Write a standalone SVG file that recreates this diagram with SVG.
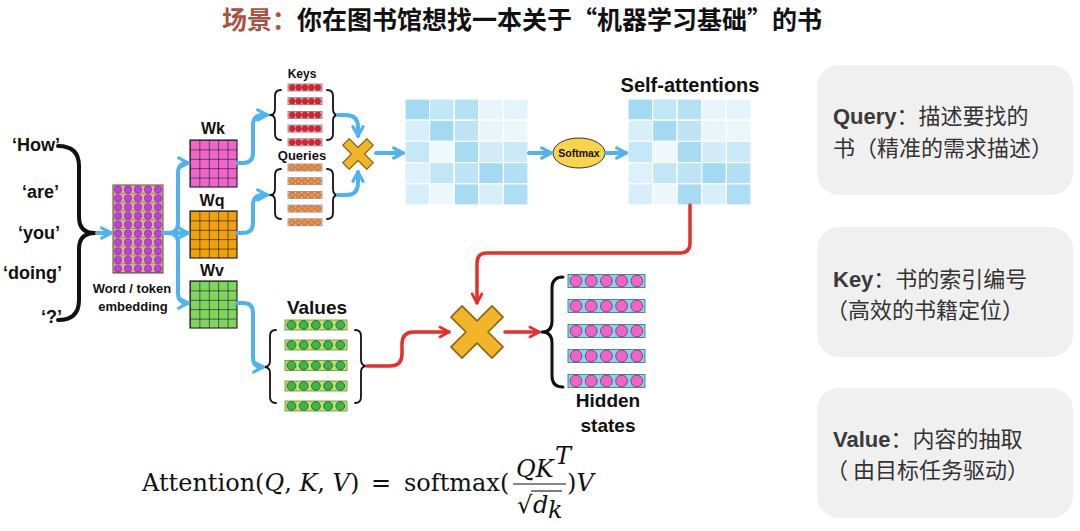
<svg xmlns="http://www.w3.org/2000/svg" xmlns:xlink="http://www.w3.org/1999/xlink" width="1080" height="531" viewBox="0 0 1080 531">
<style>
.lbl{font-family:"Liberation Sans","Noto Sans",sans-serif;font-weight:bold;fill:#111}
.word{font-family:"Liberation Sans",sans-serif;font-weight:bold;font-size:18px;fill:#111}
.blue{fill:none;stroke:#4fb3f3;stroke-width:4;stroke-linecap:round;stroke-linejoin:round}
.red{fill:none;stroke:#e5302a;stroke-width:3.5;stroke-linecap:round;stroke-linejoin:round}
.brace{fill:none;stroke:#111;stroke-linecap:round;stroke-linejoin:round}
.math{font-family:"DejaVu Serif",serif;font-size:24px;fill:#111}
.mi{font-style:italic}
.card{fill:#f0f0f0}
.ct{font-family:"Noto Sans CJK SC","Noto Sans",sans-serif;font-size:22px;fill:#333}
.kw{font-family:"Liberation Sans","Noto Sans CJK SC",sans-serif;font-weight:bold;fill:#3a3a3a}
.title{font-family:"Noto Sans CJK SC",sans-serif;font-weight:bold;font-size:25px;fill:#111}
.xs{fill:#f2b52a;stroke:#8c6a14;stroke-linejoin:round}
</style>
<defs>
<marker id="ab" viewBox="0 0 10 10" refX="8" refY="5" markerWidth="3.6" markerHeight="3.6" orient="auto" markerUnits="strokeWidth">
<path d="M1.5,1.5 L8,5 L1.5,8.5" fill="none" stroke="#4fb3f3" stroke-width="2.2" stroke-linecap="round" stroke-linejoin="round"/>
</marker>
<marker id="ar" viewBox="0 0 10 10" refX="8" refY="5" markerWidth="4" markerHeight="4" orient="auto" markerUnits="strokeWidth">
<path d="M1.5,1.5 L8,5 L1.5,8.5" fill="none" stroke="#e5302a" stroke-width="2" stroke-linecap="round" stroke-linejoin="round"/>
</marker>
<pattern id="grid" width="9.4" height="9.4" patternUnits="userSpaceOnUse">
<path d="M9.4 0 L0 0 L0 9.4" fill="none" stroke="#2a2a2a" stroke-width="1.4"/>
</pattern>
<pattern id="emb" width="10" height="8.8" patternUnits="userSpaceOnUse">
<line x1="0" y1="8.8" x2="10" y2="8.8" stroke="#6a4a30" stroke-width="0.9"/>
<circle cx="5" cy="4.4" r="3.7" fill="#c03ee6" stroke="#5a2070" stroke-width="0.5"/>
</pattern>
<path id="xsh" d="M-0.27,-1 L0.27,-1 L0.27,-0.27 L1,-0.27 L1,0.27 L0.27,0.27 L0.27,1 L-0.27,1 L-0.27,0.27 L-1,0.27 L-1,-0.27 L-0.27,-0.27 Z"/>
<g id="keyrow">
<rect x="0" y="-3.5" width="34" height="7" fill="#e9a9b8" stroke="#7a7a7a" stroke-width="0.8"/>
<circle cx="4.2" cy="0" r="2.9" fill="#e0202c" stroke="#8a1018" stroke-width="0.4"/>
<circle cx="10.6" cy="0" r="2.9" fill="#e0202c" stroke="#8a1018" stroke-width="0.4"/>
<circle cx="17" cy="0" r="2.9" fill="#e0202c" stroke="#8a1018" stroke-width="0.4"/>
<circle cx="23.4" cy="0" r="2.9" fill="#e0202c" stroke="#8a1018" stroke-width="0.4"/>
<circle cx="29.8" cy="0" r="2.9" fill="#e0202c" stroke="#8a1018" stroke-width="0.4"/>
</g>
<g id="qrow">
<rect x="0" y="-3.5" width="34" height="7" fill="#eec19a" stroke="#8a8a8a" stroke-width="0.8"/>
<circle cx="4.2" cy="0" r="2.9" fill="#f08c3c" stroke="#9a4a20" stroke-width="0.5"/>
<circle cx="10.6" cy="0" r="2.9" fill="#f08c3c" stroke="#9a4a20" stroke-width="0.5"/>
<circle cx="17" cy="0" r="2.9" fill="#f08c3c" stroke="#9a4a20" stroke-width="0.5"/>
<circle cx="23.4" cy="0" r="2.9" fill="#f08c3c" stroke="#9a4a20" stroke-width="0.5"/>
<circle cx="29.8" cy="0" r="2.9" fill="#f08c3c" stroke="#9a4a20" stroke-width="0.5"/>
</g>
<g id="vrow">
<rect x="0" y="-5" width="62" height="10" fill="#b9e36a" stroke="#6a8a30" stroke-width="0.8"/>
<circle cx="6.5" cy="0" r="4.4" fill="#3db54a" stroke="#1f5b2a" stroke-width="0.8"/>
<circle cx="18.7" cy="0" r="4.4" fill="#3db54a" stroke="#1f5b2a" stroke-width="0.8"/>
<circle cx="30.9" cy="0" r="4.4" fill="#3db54a" stroke="#1f5b2a" stroke-width="0.8"/>
<circle cx="43.1" cy="0" r="4.4" fill="#3db54a" stroke="#1f5b2a" stroke-width="0.8"/>
<circle cx="55.3" cy="0" r="4.4" fill="#3db54a" stroke="#1f5b2a" stroke-width="0.8"/>
</g>
<g id="hrow">
<rect x="0" y="-6.5" width="77" height="13" fill="#7ed9e2" stroke="#4a7a80" stroke-width="0.9"/>
<circle cx="8" cy="0" r="5.9" fill="#f263c9" stroke="#7a3070" stroke-width="0.8"/>
<circle cx="23.2" cy="0" r="5.9" fill="#f263c9" stroke="#7a3070" stroke-width="0.8"/>
<circle cx="38.4" cy="0" r="5.9" fill="#f263c9" stroke="#7a3070" stroke-width="0.8"/>
<circle cx="53.6" cy="0" r="5.9" fill="#f263c9" stroke="#7a3070" stroke-width="0.8"/>
<circle cx="68.8" cy="0" r="5.9" fill="#f263c9" stroke="#7a3070" stroke-width="0.8"/>
</g>
<g id="heat" stroke="#ffffff" stroke-width="1.2">
<rect x="0" y="0" width="24.6" height="21.2" fill="#a2daf3"/>
<rect x="24.6" y="0" width="24.6" height="21.2" fill="#c1e7f7"/>
<rect x="49.2" y="0" width="24.6" height="21.2" fill="#b4e1f5"/>
<rect x="73.8" y="0" width="24.6" height="21.2" fill="#e8f6fc"/>
<rect x="98.4" y="0" width="24.6" height="21.2" fill="#e2f4fc"/>
<rect x="0" y="21.2" width="24.6" height="21.2" fill="#d7effa"/>
<rect x="24.6" y="21.2" width="24.6" height="21.2" fill="#a2daf3"/>
<rect x="49.2" y="21.2" width="24.6" height="21.2" fill="#bce4f6"/>
<rect x="73.8" y="21.2" width="24.6" height="21.2" fill="#e8f6fc"/>
<rect x="98.4" y="21.2" width="24.6" height="21.2" fill="#eaf7fc"/>
<rect x="0" y="42.4" width="24.6" height="21.2" fill="#c4e8f8"/>
<rect x="24.6" y="42.4" width="24.6" height="21.2" fill="#f0f9fd"/>
<rect x="49.2" y="42.4" width="24.6" height="21.2" fill="#a8dcf3"/>
<rect x="73.8" y="42.4" width="24.6" height="21.2" fill="#d2edf9"/>
<rect x="98.4" y="42.4" width="24.6" height="21.2" fill="#cbeaf8"/>
<rect x="0" y="63.6" width="24.6" height="21.2" fill="#dcf1fb"/>
<rect x="24.6" y="63.6" width="24.6" height="21.2" fill="#c1e7f7"/>
<rect x="49.2" y="63.6" width="24.6" height="21.2" fill="#bce4f6"/>
<rect x="73.8" y="63.6" width="24.6" height="21.2" fill="#a2daf3"/>
<rect x="98.4" y="63.6" width="24.6" height="21.2" fill="#b1e0f4"/>
<rect x="0" y="84.8" width="24.6" height="21.2" fill="#d7effa"/>
<rect x="24.6" y="84.8" width="24.6" height="21.2" fill="#edf8fd"/>
<rect x="49.2" y="84.8" width="24.6" height="21.2" fill="#a8dcf3"/>
<rect x="73.8" y="84.8" width="24.6" height="21.2" fill="#d7effa"/>
<rect x="98.4" y="84.8" width="24.6" height="21.2" fill="#acdef4"/>
</g>
</defs>

<rect width="1080" height="531" fill="#ffffff"/>

<g id="title">
<text class="title" x="222" y="29"><tspan fill="#a9523f">场景：</tspan>你在图书馆想找一本关于“机器学习基础”的书</text>
</g>

<g id="words">
<text class="word" x="12" y="151">‘How’</text>
<text class="word" x="22" y="198">‘are’</text>
<text class="word" x="18" y="239">‘you’</text>
<text class="word" x="3" y="279">‘doing’</text>
<text class="word" x="41" y="323">‘?’</text>
<path class="brace" stroke-width="4" d="M58 146 Q79 146 79 166 L79 217 Q79 233 95 233 Q79 233 79 249 L79 300 Q79 320 58 320"/>
</g>

<g id="embedding">
<g transform="translate(113,185)">
<rect width="50" height="88" fill="#dcb58e"/>
<rect width="50" height="88" fill="url(#emb)"/>
<rect width="50" height="88" fill="none" stroke="#6a4a30" stroke-width="1"/>
</g>
<text class="lbl" x="132" y="293" font-size="13" text-anchor="middle">Word / token</text>
<text class="lbl" x="133" y="311" font-size="13" text-anchor="middle">embedding</text>
</g>

<g id="wk">
<text class="lbl" x="213" y="134" font-size="16" text-anchor="middle">Wk</text>
<g transform="translate(190,140)">
<rect width="47" height="47" fill="#f064cc"/>
<rect width="47" height="47" fill="url(#grid)"/>
<rect width="47" height="47" fill="none" stroke="#2a2a2a" stroke-width="1.2"/>
</g>
</g>
<g id="wq">
<text class="lbl" x="212" y="206" font-size="16" text-anchor="middle">Wq</text>
<g transform="translate(190,211)">
<rect width="47" height="47" fill="#f2a10a"/>
<rect width="47" height="47" fill="url(#grid)"/>
<rect width="47" height="47" fill="none" stroke="#2a2a2a" stroke-width="1.2"/>
</g>
</g>
<g id="wv">
<text class="lbl" x="212" y="276" font-size="16" text-anchor="middle">Wv</text>
<g transform="translate(190,281)">
<rect width="47" height="47" fill="#7ed65e"/>
<rect width="47" height="47" fill="url(#grid)"/>
<rect width="47" height="47" fill="none" stroke="#2a2a2a" stroke-width="1.2"/>
</g>
</g>

<g id="keys">
<text class="lbl" x="302" y="78" font-size="12" text-anchor="middle">Keys</text>
<use href="#keyrow" x="288" y="87.5"/>
<use href="#keyrow" x="288" y="101.2"/>
<use href="#keyrow" x="288" y="114.9"/>
<use href="#keyrow" x="288" y="128.6"/>
<use href="#keyrow" x="288" y="142.3"/>
<path class="brace" stroke-width="1.8" d="M281 90 Q275 90 275 96 L275 109 Q275 115 270 115 Q275 115 275 121 L275 134 Q275 140 281 140"/>
<path class="brace" stroke-width="1.8" d="M327 90 Q333 90 333 96 L333 109 Q333 115 338 115 Q333 115 333 121 L333 134 Q333 140 327 140"/>
</g>

<g id="queries">
<text class="lbl" x="302" y="160" font-size="13" text-anchor="middle">Queries</text>
<use href="#qrow" x="288" y="167.5"/>
<use href="#qrow" x="288" y="181.2"/>
<use href="#qrow" x="288" y="194.9"/>
<use href="#qrow" x="288" y="208.6"/>
<use href="#qrow" x="288" y="222.3"/>
<path class="brace" stroke-width="1.8" d="M281 169 Q275 169 275 175 L275 189 Q275 195 270 195 Q275 195 275 201 L275 213 Q275 219 281 219"/>
<path class="brace" stroke-width="1.8" d="M327 169 Q333 169 333 175 L333 189 Q333 195 338 195 Q333 195 333 201 L333 213 Q333 219 327 219"/>
</g>

<g id="mul1">
<use href="#xsh" class="xs" transform="translate(358,154) rotate(45) scale(17)" stroke-width="0.07"/>
</g>

<g id="scores">
<use href="#heat" x="405" y="99"/>
</g>

<g id="softmax">
<ellipse cx="579" cy="153" rx="26" ry="15" fill="#f7d44a" stroke="#333" stroke-width="1"/>
<text class="lbl" x="579" y="157" font-size="10.5" text-anchor="middle">Softmax</text>
</g>

<g id="selfatt">
<text class="lbl" x="690" y="92" font-size="20" text-anchor="middle">Self-attentions</text>
<use href="#heat" x="628" y="99"/>
</g>

<g id="values">
<text class="lbl" x="317" y="314" font-size="19" text-anchor="middle">Values</text>
<use href="#vrow" x="285" y="325"/>
<use href="#vrow" x="285" y="345"/>
<use href="#vrow" x="285" y="365.5"/>
<use href="#vrow" x="285" y="386"/>
<use href="#vrow" x="285" y="406"/>
<path class="brace" stroke-width="1.8" d="M276 330 Q270 330 270 336 L270 361 Q270 367 264 367 Q270 367 270 373 L270 397 Q270 403 276 403"/>
<path class="brace" stroke-width="1.8" d="M355 330 Q361 330 361 336 L361 360 Q361 366 367 366 Q361 366 361 372 L361 397 Q361 403 355 403"/>
</g>

<g id="mul2">
<use href="#xsh" class="xs" transform="translate(477,332) rotate(45) scale(29)" stroke-width="0.06"/>
</g>

<g id="hidden">
<use href="#hrow" x="568" y="281"/>
<use href="#hrow" x="568" y="306"/>
<use href="#hrow" x="568" y="331"/>
<use href="#hrow" x="568" y="356"/>
<use href="#hrow" x="568" y="381"/>
<path class="brace" stroke-width="3" d="M563 277 Q552 277 552 288 L552 321 Q552 332 542 332 Q552 332 552 343 L552 376 Q552 387 563 387"/>
<text class="lbl" x="608" y="407" font-size="19" text-anchor="middle">Hidden</text>
<text class="lbl" x="608" y="432" font-size="19" text-anchor="middle">states</text>
</g>

<g id="connectors">
<path class="blue" marker-end="url(#ab)" d="M97 233 L111 233"/>
<path class="blue" marker-end="url(#ab)" d="M163 233 L188 233"/>
<path class="blue" marker-end="url(#ab)" d="M168 233 Q178 233 178 223 L178 173 Q178 163 188 163 L188 163"/>
<path class="blue" marker-end="url(#ab)" d="M168 233 Q178 233 178 243 L178 293 Q178 303 188 303 L188 303"/>
<path class="blue" marker-end="url(#ab)" d="M237 163 L243 163 Q253 163 253 153 L253 125 Q253 115 263 115 L267 115"/>
<path class="blue" marker-end="url(#ab)" d="M237 233 L243 233 Q253 233 253 223 L253 205 Q253 195 263 195 L267 195"/>
<path class="blue" marker-end="url(#ab)" d="M237 303 L243 303 Q253 303 253 313 L253 357 Q253 367 261 367 L263 367"/>
<path class="blue" marker-end="url(#ab)" d="M338 115 L346 115 Q358 115 358 127 L358 136"/>
<path class="blue" marker-end="url(#ab)" d="M338 195 L346 195 Q358 195 358 183 L358 172"/>
<path class="blue" marker-end="url(#ab)" d="M376 153 L403 153"/>
<path class="blue" marker-end="url(#ab)" d="M529 153 L551 153"/>
<path class="blue" marker-end="url(#ab)" d="M606 153 L626 153"/>
<path class="red" marker-end="url(#ar)" d="M690 205 L690 243 Q690 253 680 253 L487 253 Q477 253 477 263 L477 303"/>
<path class="red" marker-end="url(#ar)" d="M367 366 L390 366 Q402 366 402 354 L402 344 Q402 332 414 332 L449 332"/>
<path class="red" marker-end="url(#ar)" d="M505 332 L539 332"/>
</g>

<g id="formula">
<text class="math" x="142" y="491">Attention(<tspan class="mi">Q</tspan>, <tspan class="mi">K</tspan>, <tspan class="mi">V</tspan>)</text>
<text class="math" x="371" y="491">=</text>
<text class="math" x="404" y="491">softmax(</text>
<text class="math mi" x="516" y="477">QK</text>
<text class="math mi" x="555" y="464" font-size="15">T</text>
<line x1="513" y1="484" x2="566" y2="484" stroke="#111" stroke-width="1.2"/>
<text class="math" x="517" y="513" font-size="22">√</text>
<line x1="531" y1="491" x2="562" y2="491" stroke="#111" stroke-width="1.1"/>
<text class="math mi" x="533" y="513" font-size="22">d</text>
<text class="math mi" x="548" y="518" font-size="14">k</text>
<text class="math" x="567" y="491">)<tspan class="mi">V</tspan></text>
</g>

<g id="card-query">
<rect class="card" x="817" y="65" width="256" height="130" rx="22"/>
<text class="ct" x="833" y="124"><tspan class="kw">Query</tspan>：描述要找的</text>
<text class="ct" x="833" y="156">书（精准的需求描述）</text>
</g>
<g id="card-key">
<rect class="card" x="817" y="227" width="256" height="130" rx="22"/>
<text class="ct" x="833" y="287"><tspan class="kw">Key</tspan>：书的索引编号</text>
<text class="ct" x="826" y="318">（高效的书籍定位）</text>
</g>
<g id="card-value">
<rect class="card" x="817" y="388" width="256" height="130" rx="22"/>
<text class="ct" x="833" y="447"><tspan class="kw">Value</tspan>：内容的抽取</text>
<text class="ct" x="826" y="478">（ 由目标任务驱动）</text>
</g>
</svg>
